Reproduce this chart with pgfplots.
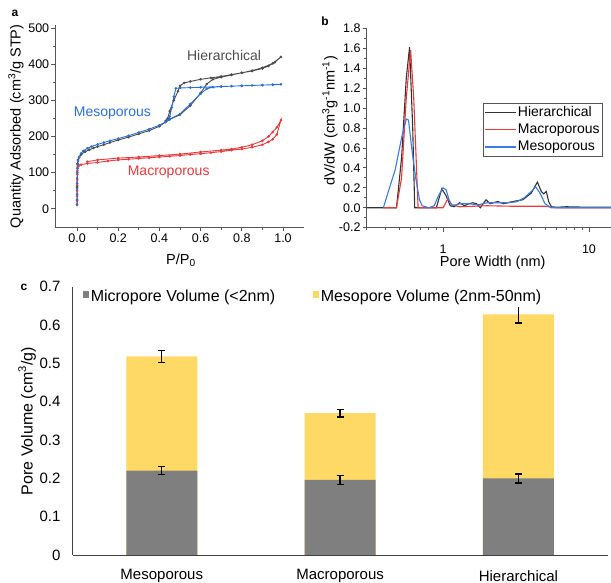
\documentclass[border=0pt]{standalone}
\usepackage{fontspec}
\setmainfont{Liberation Sans}
\usepackage{pgfplots}
\pgfplotsset{compat=1.18}

\definecolor{hier}{HTML}{4D4D4D}
\definecolor{meso}{HTML}{2B6FD6}
\definecolor{macro}{HTML}{E8393C}
\definecolor{bhier}{HTML}{333333}
\definecolor{bmacro}{HTML}{E8393C}
\definecolor{bmeso}{HTML}{3B7DDD}
\definecolor{microbar}{HTML}{7F7F7F}
\definecolor{mesobar}{HTML}{FFD966}
\definecolor{axgray}{HTML}{555555}

\pgfplotsset{
  panel/.style={
    scale only axis, anchor=south west,
    axis lines*=left,
    axis line style={axgray, line width=0.8pt},
    tick style={axgray, line width=0.8pt},
    tick align=outside, major tick length=4pt, minor tick length=2.5pt,
    /pgf/number format/assume math mode=true,
    tick label style={font=\fontsize{12.5}{14}\selectfont, inner sep=0pt},
    label style={font=\fontsize{14.5}{16}\selectfont},
    clip=false,
  },
}

\begin{document}
\begin{tikzpicture}
\useasboundingbox (0pt,0pt) rectangle (611pt,583pt);

% ---------------- panel a : isotherms
\begin{axis}[panel,
  at={(55.4pt,355.5pt)}, width=248.2pt, height=202.4pt,
  xmin=-0.105, xmax=1.1, ymin=-52, ymax=508,
  xtick={0,0.2,0.4,0.6,0.8,1}, ytick={0,100,200,300,400,500},
  minor x tick num=1, minor y tick num=1,
  xticklabel style={/pgf/number format/fixed, /pgf/number format/fixed zerofill,
    /pgf/number format/precision=1, anchor=center, yshift=-7pt},
  yticklabel style={anchor=east, xshift=-2pt},
  xlabel={P/P\textsubscript{0}}, ylabel={Quantity Adsorbed (cm\textsuperscript{3}/g STP)},
  xlabel style={at={(rel axis cs:0.506,-0.161)}, anchor=center},
  ylabel style={at={(rel axis cs:-0.159,0.50)}, anchor=center},
]
\addplot[macro, line width=0.9pt, mark=*, mark size=0.8pt] coordinates {
 (0.0001,10)(0.0002,22)(0.0003,35)(0.0005,50)(0.0007,65)(0.001,80)(0.0015,95)
 (0.002,105)(0.003,112)(0.005,117)(0.01,120)(0.02,122)(0.05,125)(0.1,128)
 (0.15,132)(0.2,135)(0.25,137)(0.3,139)(0.35,141)(0.4,143)(0.45,145)(0.5,147)
 (0.55,150)(0.6,152)(0.65,155)(0.7,158)(0.75,162)(0.8,165)(0.85,170)(0.9,177)
 (0.93,185)(0.95,192)(0.97,205)(0.99,245)
 (0.97,225)(0.95,212)(0.93,200)(0.9,188)(0.85,177)(0.8,170)(0.75,165)(0.7,162)
 (0.6,157)(0.5,151)(0.4,147)(0.3,143)(0.2,140)(0.1,135)(0.05,130)
};
\addplot[hier, line width=0.9pt, mark=*, mark size=0.8pt] coordinates {
 (0.0005,60)(0.001,100)(0.002,125)(0.005,135)(0.01,142)(0.02,150)(0.04,158)
 (0.06,163)(0.08,168)(0.1,172)(0.13,177)(0.16,183)(0.2,190)(0.25,198)(0.3,207)
 (0.35,216)(0.4,228)(0.43,240)(0.45,247)(0.5,260)(0.55,285)(0.6,320)(0.63,345)
 (0.66,358)(0.7,364)(0.75,370)(0.8,376)(0.85,381)(0.9,388)(0.93,395)(0.96,405)
 (0.99,420)
 (0.95,402)(0.9,390)(0.85,382)(0.8,376)(0.75,371)(0.7,366)(0.65,362)(0.6,358)
 (0.55,352)(0.52,348)(0.5,340)(0.49,325)(0.47,300)(0.45,270)(0.44,250)(0.43,243)
};
\addplot[meso, line width=0.9pt, mark=*, mark size=0.8pt] coordinates {
 (0.0001,12)(0.0002,25)(0.0003,40)(0.0005,55)(0.0007,70)(0.001,85)(0.0015,100)
 (0.002,112)(0.003,122)(0.005,132)(0.01,143)(0.02,153)(0.03,160)(0.05,167)
 (0.07,172)(0.1,178)(0.13,183)(0.16,188)(0.2,194)(0.25,202)(0.3,211)(0.35,220)
 (0.4,231)(0.43,240)(0.45,248)(0.5,262)(0.55,290)(0.6,318)(0.63,332)(0.66,336)
 (0.7,338)(0.75,339)(0.8,340)(0.85,341)(0.9,342)(0.95,343)(0.99,344)
 (0.95,343)(0.9,342)(0.8,340)(0.7,338)(0.6,336)(0.55,335)(0.5,334)(0.48,333)
 (0.47,310)(0.46,280)(0.45,255)(0.44,245)
};
\node[text=hier, font=\fontsize{14}{16}\selectfont] at (axis cs:0.714,425) {Hierarchical};
\node[text=meso, font=\fontsize{14}{16}\selectfont] at (axis cs:0.172,264) {Mesoporous};
\node[text=macro, font=\fontsize{14}{16}\selectfont] at (axis cs:0.445,100) {Macroporous};
\end{axis}

% ---------------- panel b : pore size distribution
\begin{axis}[panel,
  at={(366.7pt,355.3pt)}, width=244.3pt, height=199.4pt,
  xmode=log, xmin=0.3, xmax=14.15, ymin=-0.2, ymax=1.8,
  log ticks with fixed point,
  xtick={1,10}, minor xtick={0.3,0.4,0.5,0.6,0.7,0.8,0.9,2,3,4,5,6,7,8,9},
  ytick={-0.2,0,0.2,0.4,0.6,0.8,1.0,1.2,1.4,1.6,1.8}, minor y tick num=1,
  yticklabel style={/pgf/number format/fixed, /pgf/number format/fixed zerofill,
    /pgf/number format/precision=1, anchor=east, xshift=-2pt},
  xticklabel style={anchor=center, yshift=-17.5pt},
  xlabel={Pore Width (nm)},
  ylabel={dV/dW (cm\textsuperscript{3}g\textsuperscript{-1}nm\textsuperscript{-1})},
  xlabel style={at={(rel axis cs:0.516,-0.176)}, anchor=center},
  ylabel style={at={(rel axis cs:-0.150,0.535)}, anchor=center},
  legend style={at={(rel axis cs:0.477,0.627)}, anchor=north west,
    draw=axgray, line width=0.6pt, font=\fontsize{14}{16}\selectfont,
    inner xsep=1pt, inner ysep=0.5pt, row sep=0pt,
    nodes={inner sep=1.2pt, text height=11.5pt, text depth=3.5pt}},
  legend cell align=left,
  legend image code/.code={\draw[#1, line width=1.2pt] (0pt,0pt) -- (31pt,0pt);},
]
\addplot[bhier, line width=1.1pt] coordinates {
 (0.3,0)(0.48,0)(0.52,0.5)(0.56,1.3)(0.59,1.61)(0.62,0.8)(0.64,0)(0.9,0)
 (0.98,0.19)(1.05,0.12)(1.12,0.02)(1.19,0.01)(1.3,0.05)(1.4,0.02)(1.5,0.04)
 (1.6,0.05)(1.7,0.04)(1.8,0.0)(1.97,0.08)(2.1,0.04)(2.37,0.063)(2.6,0.04)
 (2.85,0.055)(3.2,0.07)(3.52,0.08)(4.02,0.147)(4.43,0.257)(4.6,0.2)(4.72,0.163)
 (4.9,0.14)(5.1,0.163)(5.3,0.06)(5.53,0.01)(6,0.005)(7,0.01)(10,0.005)(14.15,0.005)
};
\addlegendentry{Hierarchical}
\addplot[bmacro, line width=1.1pt] coordinates {
 (0.39,0)(0.48,0)(0.52,0.3)(0.56,1.1)(0.6,1.58)(0.63,1.1)(0.675,0)(1.0,0)
 (1.08,0.09)(1.15,0.03)(1.3,0.01)(2,0.02)(3,0.015)(5,0.015)(6,0)(14.15,0)
};
\addlegendentry{Macroporous}
\addplot[bmeso, line width=1.1pt] coordinates {
 (0.39,0)(0.43,0.2)(0.47,0.38)(0.52,0.7)(0.56,0.89)(0.58,0.88)(0.61,0.6)
 (0.65,0.3)(0.69,0.08)(0.72,0.02)(0.8,0)(0.87,0.02)(0.93,0.12)(1.0,0.2)
 (1.05,0.18)(1.1,0.08)(1.15,0.02)(1.3,0.04)(1.5,0.04)(1.74,0.03)(2.0,0.05)
 (2.4,0.05)(2.8,0.05)(3.2,0.06)(3.6,0.1)(4.0,0.16)(4.31,0.21)(4.6,0.15)
 (5.0,0.04)(5.5,0)(14.15,0)
};
\addlegendentry{Mesoporous}
\end{axis}

% ---------------- panel c : pore volumes
\begin{axis}[
  scale only axis, anchor=south west, clip=false,
  at={(72.6pt,28pt)}, width=535pt, height=268.3pt,
  xmin=-0.5, xmax=2.5, ymin=0, ymax=0.7,
  axis lines*=left, axis line style={black!75, line width=0.8pt},
  major tick length=0pt,
  xtick={0,1,2}, xticklabels={Mesoporous, Macroporous, Hierarchical},
  ytick={0,0.1,0.2,0.3,0.4,0.5,0.6,0.7},
  yticklabels={0,0.1,0.2,0.3,0.4,0.5,0.6,0.7},
  tick label style={font=\fontsize{15}{17}\selectfont, inner sep=0pt},
  xticklabel style={anchor=center, yshift=-21pt},
  yticklabel style={anchor=east, xshift=-12pt},
  ylabel={Pore Volume (cm\textsuperscript{3}/g)},
  ylabel style={font=\fontsize{16}{18}\selectfont, at={(rel axis cs:-0.085,0.4995)}, anchor=center},
  ybar, bar width=71pt, bar shift=0pt,
  legend style={at={(rel axis cs:0.013,1.0)}, anchor=north west, draw=none,
    font=\fontsize{16}{18}\selectfont, legend columns=2,
    /tikz/every even column/.append style={column sep=36pt},
    nodes={inner sep=1.5pt}},
  legend image code/.code={\fill[#1] (0pt,-1pt) rectangle (6.5pt,5.5pt);},
  error bars/y dir=both, error bars/y explicit,
  error bars/error bar style={black, line width=1.4pt},
  error bars/error mark options={rotate=90, mark size=3.4pt, line width=1.4pt, black},
]
\addlegendimage{fill=microbar, draw=none}
\addlegendentry{Micropore Volume (<2nm)}
\addlegendimage{fill=mesobar, draw=none}
\addlegendentry{Mesopore Volume (2nm-50nm)}
% total pore volume (yellow part shows above the micropore bar)
\addplot[fill=mesobar, draw=none, forget plot] coordinates {
 (0,0.518) +- (0,0.0157)
 (1,0.370) +- (0,0.0096)
 (2,0.628) +- (0,0.023)
};
% micropore volume
\addplot[fill=microbar, draw=none, forget plot] coordinates {
 (0,0.220) +- (0,0.0104)
 (1,0.196) +- (0,0.0117)
 (2,0.200) +- (0,0.0117)
};
\end{axis}

\node[font=\bfseries\fontsize{12}{14}\selectfont] at (15pt,570pt) {a};
\node[font=\bfseries\fontsize{12}{14}\selectfont] at (325pt,562pt) {b};
\node[font=\bfseries\fontsize{12}{14}\selectfont] at (24pt,296pt) {c};
\end{tikzpicture}
\end{document}
